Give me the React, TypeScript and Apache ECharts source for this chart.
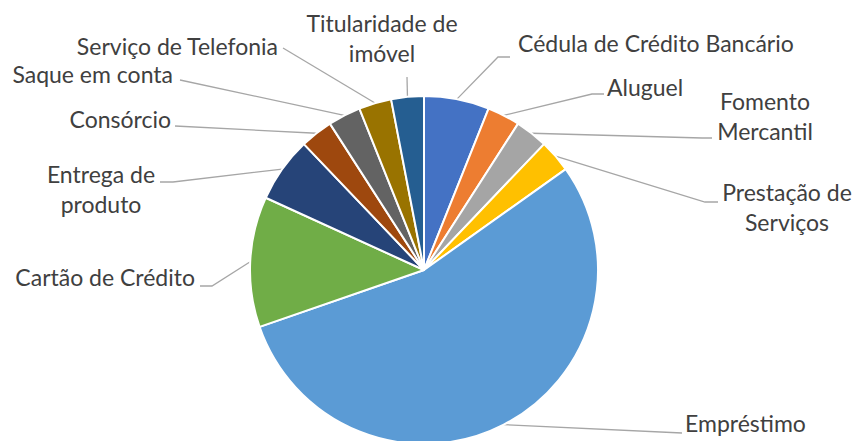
import React, { useEffect, useRef } from "react";
import * as echarts from "echarts";

const categories = [
  "Cédula de Crédito Bancário",
  "Aluguel",
  "Fomento Mercantil",
  "Prestação de Serviços",
  "Empréstimo",
  "Cartão de Crédito",
  "Entrega de produto",
  "Consórcio",
  "Saque em conta",
  "Serviço de Telefonia",
  "Titularidade de imóvel",
];
const values = [2, 1, 1, 1, 18, 4, 2, 1, 1, 1, 1];
const colors = [
  "#4472C4", "#ED7D31", "#A5A5A5", "#FFC000", "#5B9BD5", "#70AD47",
  "#264478", "#9E480E", "#636363", "#997300", "#255E91",
];
// number of words on the first line when a label wraps (0 = single line)
const wrapWords = [0, 0, 1, 2, 0, 0, 2, 0, 0, 0, 2];

// label layout: [x, y, align, elbowX, elbowY, endX, endY]
const layout: [number, number, string, number, number, number, number][] = [
  [518, 43, "left", 498, 57, 510, 57],
  [607, 87, "left", 592, 94, 604, 94],
  [765, 116, "center", 702, 138, 712, 138],
  [787, 207, "center", 705, 202, 718, 202],
  [685, 423, "left", 682, 433, 682, 433],
  [195, 277, "right", 212, 286, 200, 286],
  [101, 189, "center", 173, 182, 160, 182],
  [171, 119, "right", 175, 126, 175, 126],
  [173, 74, "right", 180, 80, 180, 80],
  [278, 46, "right", 283, 48, 283, 48],
  [382, 38, "center", 407, 77, 407, 77],
];

export default function App() {
  const ref = useRef<HTMLDivElement>(null);
  useEffect(() => {
    if (!ref.current) return;
    const chart = echarts.init(ref.current, null, { renderer: "svg" });
    chart.setOption({
      animation: false,
      backgroundColor: "#ffffff",
      series: [
        {
          type: "pie",
          center: [424, 270],
          radius: 174,
          startAngle: 90,
          clockwise: true,
          avoidLabelOverlap: false,
          data: categories.map((name, i) => ({
            name,
            value: values[i],
            itemStyle: { color: colors[i] },
          })),
          itemStyle: { borderColor: "#ffffff", borderWidth: 2 },
          label: {
            show: true,
            position: "outside",
            color: "#404040",
            fontFamily: "Lato, sans-serif",
            fontSize: 23,
            lineHeight: 30,
            formatter: (p: any) => {
              const n = wrapWords[p.dataIndex];
              if (!n) return p.name;
              const w = p.name.split(" ");
              return w.slice(0, n).join(" ") + "\n" + w.slice(n).join(" ");
            },
          },
          labelLine: {
            show: true,
            length: 10,
            length2: 10,
            smooth: false,
            lineStyle: { color: "#A6A6A6", width: 1.3 },
          },
          labelLayout: (params: any) => {
            const l = layout[params.dataIndex];
            const start = params.labelLinePoints
              ? params.labelLinePoints[0]
              : [l[3], l[4]];
            return {
              x: l[0],
              y: l[1],
              align: l[2],
              verticalAlign: "middle",
              labelLinePoints: [start, [l[3], l[4]], [l[5], l[6]]],
            };
          },
        },
      ],
    });
    return () => chart.dispose();
  }, []);
  return (
    <div
      ref={ref}
      style={{ position: "fixed", left: 0, top: 0, width: 855, height: 441 }}
    />
  );
}
